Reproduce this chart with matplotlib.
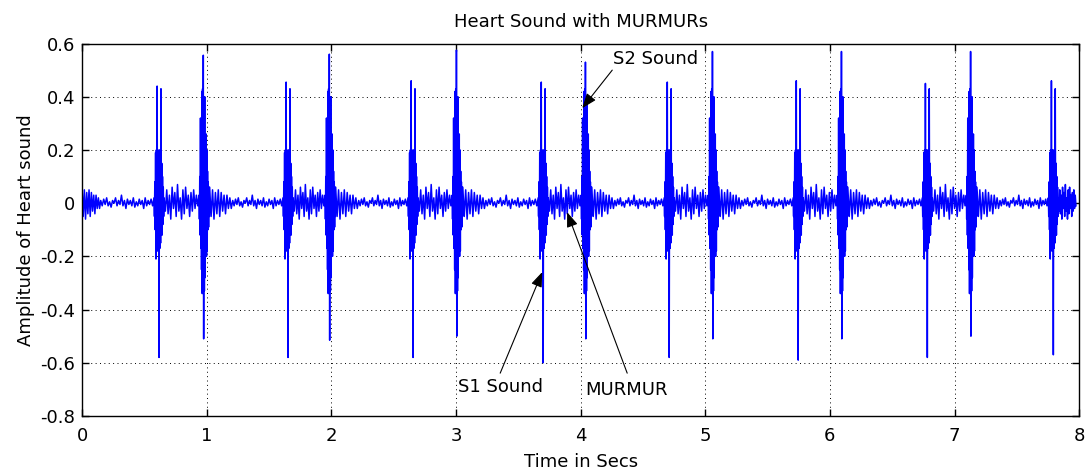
import numpy as np
import matplotlib.pyplot as plt

plt.rcParams['font.family'] = ['DejaVu Sans']

# beat times in seconds and peak amplitudes
s1_times = [0.618, 1.653, 2.656, 3.700, 4.711, 5.746, 6.782, 7.793]
s1_max = [0.44, 0.455, 0.46, 0.455, 0.455, 0.46, 0.45, 0.46]
s1_min = [-0.58, -0.58, -0.58, -0.60, -0.58, -0.59, -0.58, -0.57]
s2_times = [0.979, 1.990, 3.010, 4.045, 5.064, 6.099, 7.135]
s2_max = [0.556, 0.56, 0.575, 0.53, 0.57, 0.57, 0.57]
s2_min = [-0.51, -0.515, -0.50, -0.51, -0.51, -0.51, -0.50]

# successive peaks inside one burst (max / min entries get replaced per beat)
s1_shape = [0.02, -0.05, 0.08, -0.1, 0.19, -0.21, 0.2, -0.15, 0.44, -0.18,
            0.2, -0.16, 0.19, -0.58, 0.2, -0.17, 0.18, -0.15, 0.43, -0.12,
            0.15, -0.12, 0.1, -0.08, 0.06, -0.05]
s1_imax, s1_imin = 8, 13
s2_shape = [0.03, -0.06, 0.1, -0.12, 0.32, -0.17, 0.3, -0.25, 0.42, -0.34,
            0.43, -0.3, 0.55, -0.51, 0.38, -0.33, 0.4, -0.28, 0.24, -0.2,
            0.26, -0.2, 0.2, -0.18, 0.12, -0.1, 0.08, -0.09, 0.06, -0.05]
s2_imax, s2_imin = 12, 13

# background between the bursts
murmur = [0.02, -0.03, 0.05, -0.04, 0.03, -0.06, 0.06, -0.02, 0.04, -0.05,
          0.07, -0.03, 0.02, -0.06, 0.05, -0.04, 0.06, -0.02, 0.03, -0.05,
          0.04, -0.03, 0.05, -0.02, 0.03, -0.01]
ringing = [0.06, -0.05, 0.05, -0.06, 0.04, -0.04, 0.05, -0.05, 0.04, -0.03,
           0.03, -0.04, 0.03, -0.02, 0.02, -0.02]
quiet = [0.01, -0.01, 0.015, -0.005, 0.02, -0.01, 0.005, -0.015, 0.01, 0.0,
         0.02, -0.01, 0.01, -0.005, 0.03, -0.01, 0.01, -0.02, 0.015, -0.005,
         0.01, -0.01, 0.02, -0.015, 0.005, -0.01, 0.015, -0.005, 0.01, -0.02,
         0.02, -0.01, 0.01, -0.005, 0.015, -0.01]

t_parts, y_parts = [], []


def add(t0, t1, vals):
    t_parts.append(np.linspace(t0, t1, len(vals), endpoint=False))
    y_parts.append(np.asarray(vals, dtype=float))


# signal starts just after an S2
add(0.0, 0.15, ringing)
add(0.15, s1_times[0] - 0.04, quiet)
for k, t1 in enumerate(s1_times):
    b = list(s1_shape)
    b[s1_imax], b[s1_imin] = s1_max[k], s1_min[k]
    add(t1 - 0.04, t1 + 0.04, b)
    if k < len(s2_times):
        t2 = s2_times[k]
        add(t1 + 0.04, t2 - 0.04, murmur)
        b = list(s2_shape)
        b[s2_imax], b[s2_imin] = s2_max[k], s2_min[k]
        add(t2 - 0.04, t2 + 0.045, b)
        add(t2 + 0.045, t2 + 0.23, ringing)
        add(t2 + 0.23, s1_times[k + 1] - 0.04, quiet)
    else:
        add(t1 + 0.04, 7.98, murmur)

t = np.concatenate(t_parts)
y = np.concatenate(y_parts)

fig = plt.figure(figsize=(10.85, 4.71), dpi=100)
ax = fig.add_axes([0.0756, 0.1168, 0.919, 0.7908])
ax.plot(t, y, color='#0000FF', lw=1.1)

ax.set_xlim(0, 8)
ax.set_ylim(-0.8, 0.6)
ax.set_xticks(range(0, 9))
yt = [-0.8, -0.6, -0.4, -0.2, 0, 0.2, 0.4, 0.6]
ax.set_yticks(yt)
ax.set_yticklabels(['-0.8', '-0.6', '-0.4', '-0.2', '0', '0.2', '0.4', '0.6'])
ax.tick_params(direction='in', length=5, width=1, top=True, right=True,
               labelsize=13)
ax.tick_params(axis='x', pad=8)
ax.tick_params(axis='y', pad=5)
ax.grid(True, color='k', linestyle=(0, (1, 3.5)), linewidth=0.7)
for s in ax.spines.values():
    s.set_linewidth(1)

ax.set_title('Heart Sound with MURMURs', fontsize=13, pad=12)
ax.set_xlabel('Time in Secs', fontsize=13, labelpad=6)
ax.set_ylabel('Amplitude of Heart sound', fontsize=13, labelpad=4)

arrow = dict(arrowstyle='-|>,head_length=0.45,head_width=0.17', color='k',
             lw=0.8, shrinkA=0, shrinkB=0, mutation_scale=20)
ax.annotate('', xy=(4.013, 0.357), xytext=(4.254, 0.50), arrowprops=arrow)
ax.annotate('', xy=(3.692, -0.259), xytext=(3.355, -0.639), arrowprops=arrow)
ax.annotate('', xy=(3.892, -0.034), xytext=(4.374, -0.639), arrowprops=arrow)
ax.text(4.26, 0.541, 'S2 Sound', fontsize=13, va='center', ha='left')
ax.text(3.018, -0.692, 'S1 Sound', fontsize=13, va='center', ha='left')
ax.text(4.037, -0.703, 'MURMUR', fontsize=13, va='center', ha='left')

plt.savefig('out.png', dpi=100)
